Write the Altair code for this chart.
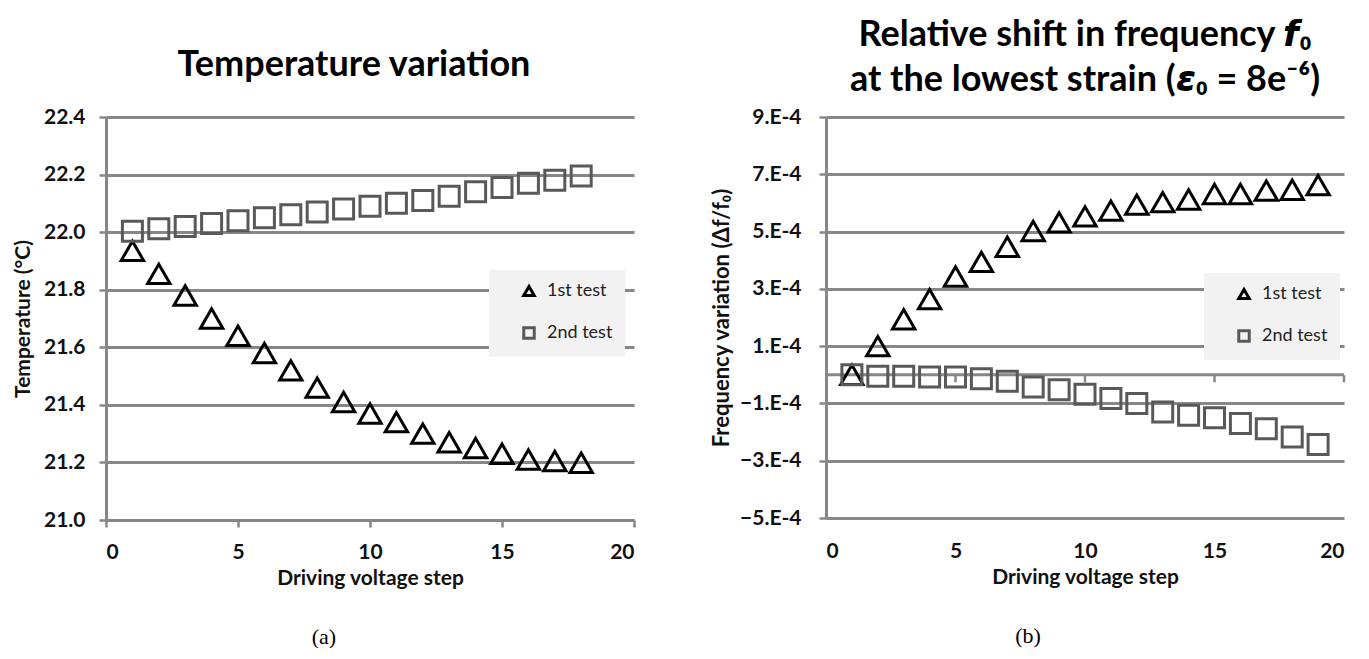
import altair as alt
import pandas as pd

# ---------------- data ----------------
series = ["1st test", "2nd test"]

steps_a = list(range(1, 19))
temp_1st = [21.935, 21.855, 21.78, 21.70, 21.64, 21.58, 21.52, 21.46, 21.41,
            21.37, 21.34, 21.30, 21.27, 21.25, 21.23, 21.21, 21.205, 21.199]
temp_2nd = [22.003, 22.012, 22.02, 22.03, 22.04, 22.05, 22.06, 22.07, 22.08,
            22.09, 22.10, 22.11, 22.125, 22.14, 22.155, 22.17, 22.18, 22.195]

steps_b = list(range(1, 20))
freq_1st = [0.0, 1.0e-4, 1.94e-4, 2.64e-4, 3.43e-4, 3.94e-4, 4.47e-4, 5.02e-4,
            5.32e-4, 5.53e-4, 5.73e-4, 5.94e-4, 6.03e-4, 6.12e-4, 6.31e-4,
            6.31e-4, 6.43e-4, 6.46e-4, 6.62e-4]
freq_2nd = [0.0, -0.05e-4, -0.05e-4, -0.08e-4, -0.08e-4, -0.14e-4, -0.23e-4,
            -0.43e-4, -0.52e-4, -0.68e-4, -0.83e-4, -1.0e-4, -1.3e-4, -1.41e-4,
            -1.5e-4, -1.7e-4, -1.88e-4, -2.17e-4, -2.43e-4]

x_ticks = [0, 5, 10, 15, 20]
temp_ticks = [21.0, 21.2, 21.4, 21.6, 21.8, 22.0, 22.2, 22.4]
freq_ticks = [-5e-4, -3e-4, -1e-4, 1e-4, 3e-4, 5e-4, 7e-4, 9e-4]
zero_line = [0.0]
b_tick_steps = [5, 10, 15, 20]

df_a = pd.DataFrame({
    "step": steps_a * 2,
    "value": temp_1st + temp_2nd,
    "test": [series[0]] * len(steps_a) + [series[1]] * len(steps_a),
})
df_b = pd.DataFrame({
    "step": steps_b * 2,
    "value": freq_1st + freq_2nd,
    "test": [series[0]] * len(steps_b) + [series[1]] * len(steps_b),
})

# ---------------- styling ----------------
FONT = "Lato"
GRID = "#878787"
shape_scale = alt.Scale(domain=series, range=["triangle-up", "square"])
color_scale = alt.Scale(domain=series, range=["#000000", "#595959"])
marker_size = {series[0]: 500, series[1]: 400}


def legend(x, y):
    return alt.Legend(
        title=None, orient="none", legendX=x, legendY=y,
        fillColor="#f2f2f2", padding=12, rowPadding=19,
        labelFont=FONT, labelFontSize=18, labelColor="#222222",
        symbolSize=110, symbolStrokeWidth=3, labelOffset=9,
        symbolOffset=19,
    )


def x_axis(domain_on, pad):
    return alt.Axis(
        values=x_ticks, title="Driving voltage step", grid=False,
        domain=domain_on, ticks=domain_on, domainColor=GRID, domainWidth=3,
        tickColor=GRID, tickWidth=2.5, tickSize=7,
        labelFont=FONT, labelFontSize=21, labelFontWeight="bold",
        labelColor="#111111", labelPadding=pad,
        titleFont=FONT, titleFontSize=21, titleFontWeight="bold",
        titleColor="#111111", titlePadding=5,
    )


def y_axis(values, title, lpad, tpad, tsize, fmt=None, expr=None):
    kw = dict(
        values=values, title=title, grid=True, gridColor=GRID, gridWidth=3,
        domain=True, domainColor=GRID, domainWidth=3,
        ticks=True, tickColor=GRID, tickWidth=2.5, tickSize=7,
        labelFont=FONT, labelFontSize=21, labelFontWeight="bold",
        labelColor="#111111", labelPadding=lpad,
        titleFont=FONT, titleFontSize=tsize, titleFontWeight="bold",
        titleColor="#111111", titlePadding=tpad,
    )
    if fmt:
        kw["format"] = fmt
    if expr:
        kw["labelExpr"] = expr
    return alt.Axis(**kw)


def point_layers(df, xax, yax, ydomain, leg):
    layers = []
    for s in series:
        layers.append(
            alt.Chart(df).transform_filter(alt.datum.test == s).mark_point(
                filled=False, strokeWidth=3, opacity=1, size=marker_size[s]
            ).encode(
                x=alt.X("step:Q", scale=alt.Scale(domain=[0, 20], nice=False), axis=xax),
                y=alt.Y("value:Q", scale=alt.Scale(domain=ydomain, nice=False, zero=False), axis=yax),
                color=alt.Color("test:N", scale=color_scale, legend=leg),
                shape=alt.Shape("test:N", scale=shape_scale, legend=leg),
            )
        )
    return layers


# ---------------- panel (a) ----------------
layers_a = point_layers(
    df_a, x_axis(True, 14),
    y_axis(temp_ticks, "Temperature (°C)", 14, 10, 21, fmt=".1f"),
    [21.0, 22.4], legend(383, 153))

panel_a = alt.layer(*layers_a).properties(
    width=528, height=403,
    title=alt.Title("Temperature variation", font=FONT, fontSize=36,
                    fontWeight="bold", color="#000000", offset=22, dx=-16),
)

# ---------------- panel (b) ----------------
zero_rule = alt.Chart(pd.DataFrame({"v": zero_line})).mark_rule(
    color=GRID, strokeWidth=3).encode(y=alt.Y("v:Q"))
zero_ticks = alt.Chart(pd.DataFrame({"step": b_tick_steps, "v": [0.0] * len(b_tick_steps)})).mark_tick(
    orient="vertical", color=GRID, thickness=2.5, size=7, yOffset=4, opacity=1).encode(
    x=alt.X("step:Q"), y=alt.Y("v:Q"))

layers_b = point_layers(
    df_b, x_axis(False, 22),
    y_axis(freq_ticks, "Frequency variation (Δf/f₀)", 18, 6, 22,
           expr="replace(format(datum.value, '.0e'), 'e', '.E')"),
    [-5e-4, 9e-4], legend(378, 156))

panel_b = alt.layer(zero_rule, zero_ticks, *layers_b).properties(
    width=518, height=401,
    title=alt.Title(["Relative shift in frequency 𝙛₀",
                     "at  the lowest strain (𝞮₀ = 8e⁻⁶)"],
                    font=FONT, fontSize=36, fontWeight="bold", color="#000000",
                    lineHeight=45, offset=7),
)

cap = dict(orient="bottom", font="Liberation Serif", fontSize=22,
           fontWeight="normal", color="#000000", offset=39, anchor="middle")

left = alt.vconcat(panel_a, title=alt.Title("(a)", **cap)).resolve_scale(
    color="independent", shape="independent").resolve_legend(
    color="independent", shape="independent")
right = alt.vconcat(panel_b, title=alt.Title("(b)", **cap)).resolve_scale(
    color="independent", shape="independent").resolve_legend(
    color="independent", shape="independent")

chart = alt.hconcat(left, right, spacing=74).resolve_scale(
    color="independent", shape="independent").resolve_legend(
    color="independent", shape="independent").configure(
    padding={"left": 4, "top": 9, "right": 0, "bottom": 0},
).configure_view(stroke=None).configure_concat(spacing=74)

chart.save("out.html", embed_options={"renderer": "svg", "actions": False})
